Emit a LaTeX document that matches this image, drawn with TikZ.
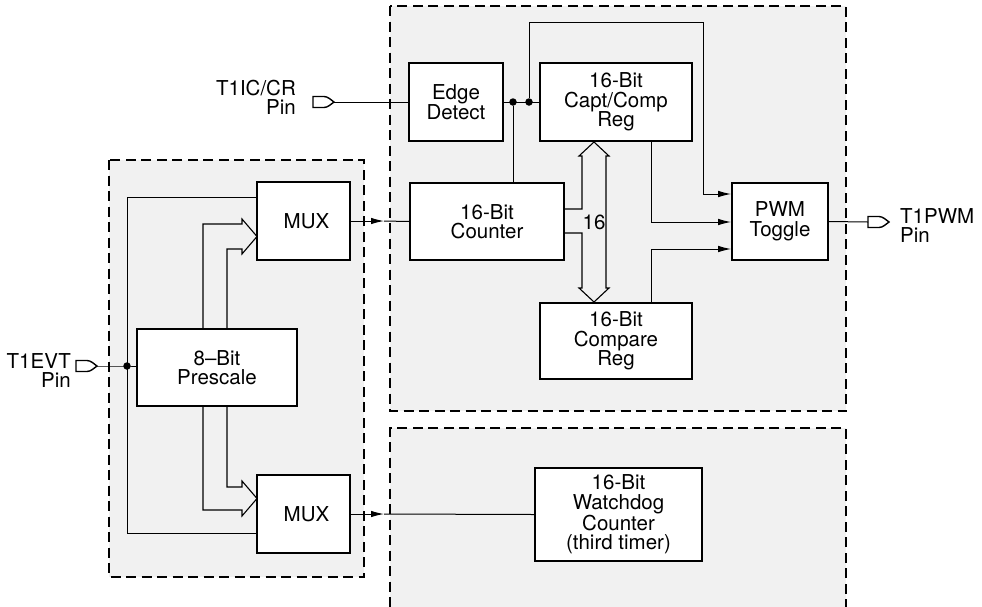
\documentclass[tikz,border=0pt]{standalone}
\usepackage{fontspec}
\setmainfont{TeX Gyre Heros}
\usetikzlibrary{arrows.meta}
\tikzset{
  inpin/.pic={\draw[line width=1.4pt, fill=white] (0,-5.5) -- (11,-5.5) .. controls (15,-5.5) and (18,-2) .. (21,0) .. controls (18,2) and (15,5.5) .. (11,5.5) -- (0,5.5) -- cycle;},
  blk/.style={draw, line width=1.7pt, fill=white, inner sep=0pt, align=center, font=\fontsize{20.5}{19.5}\selectfont},
  region/.style={draw, dash pattern=on 10pt off 5.5pt, line width=1.1pt, fill=gray!11},
  sig/.style={line width=1pt},
  arr/.style={sig, -{Latex[length=13pt,width=6.5pt]}},
  jdot/.style={circle, fill=black, inner sep=0pt, minimum size=7.5pt},
  lbl/.style={inner sep=0pt, font=\fontsize{20.5}{19}\selectfont},
  bus/.style={line width=1.1pt, line join=miter}
}
\begin{document}
\begin{tikzpicture}[x=1pt,y=-1pt]
\clip (0,0) rectangle (982,606);
\fill[white] (0,0) rectangle (982,606);
% regions
\draw[region] (109,160) rectangle (364,577);
\draw[region] (390,6) rectangle (846,411);
\draw[region] (846,640) -- (846,428) -- (390,428) -- (390,640);
% blocks
\node[blk, minimum width=94pt, minimum height=78pt] (edge) at (456,102) {Edge\\Detect};
\node[blk, minimum width=152pt, minimum height=78pt] (capt) at (616,102) {16-Bit\\Capt/Comp\\Reg};
\node[blk, minimum width=154pt, minimum height=77pt] (counter) at (487,221.5) {16-Bit\\Counter};
\node[blk, minimum width=96pt, minimum height=77pt] (pwm) at (780,221.5) {PWM\\Toggle};
\node[blk, minimum width=152pt, minimum height=76pt] (cmpreg) at (616,341) {16-Bit\\Compare\\Reg};
\node[blk, minimum width=167pt, minimum height=93pt] (wd) at (618.5,514.5) {16-Bit\\Watchdog\\Counter\\(third timer)};
\node[blk, minimum width=93pt, minimum height=78pt] (muxa) at (303.5,221) {\hspace{6pt}MUX};
\node[blk, minimum width=160pt, minimum height=77pt] (pre) at (217,367.5) {8–Bit\\Prescale};
\node[blk, minimum width=93pt, minimum height=78pt] (muxb) at (303.5,514) {\hspace{6pt}MUX};
% pins
\pic at (313,102) {inpin};
\coordinate (icpin) at (334,102);
\node[lbl, anchor=east, align=right] (iclbl) at (296,97.5) {T1IC/CR\\Pin};
\pic at (76,366) {inpin};
\coordinate (evtpin) at (97,366);
\node[lbl, anchor=east, align=right] (evtlbl) at (71,371) {T1EVT\\Pin};
\pic at (868,222) {inpin};
\coordinate (pwmpin) at (868,222);
\node[lbl, anchor=west, align=left] (pwmlbl) at (900,226) {T1PWM\\Pin};
% capture input
\draw[sig] (icpin) -- (edge.west);
\coordinate (d1) at (513,102);
\coordinate (d2) at (529,102);
\draw[sig] (edge.east) -- (capt.west);
\node[jdot] (dot1) at (d1) {};
\node[jdot] (dot2) at (d2) {};
\draw[sig] (dot1) -- (d1 |- counter.north);
\coordinate (tl) at (529,22);
\coordinate (tr) at (703,22);
\coordinate (tb) at (703,194);
\draw[arr] (dot2) -- (tl) -- (tr) -- (tb) -- (tb -| pwm.west);
\coordinate (cc) at (651,222);
\draw[arr] (capt.south -| cc) -- (cc) -- (cc -| pwm.west);
\coordinate (cr) at (651,249);
\draw[arr] (cmpreg.north -| cr) -- (cr) -- (cr -| pwm.west);
\draw[sig] (pwm.east) -- (pwmpin);
% mux outputs
\coordinate (ma) at (384,221);
\draw[arr] (muxa.east) -- (ma);
\draw[sig] (ma) -- (counter.west);
\coordinate (mb) at (384,514);
\draw[arr] (muxb.east) -- (mb);
\draw[sig] (mb) -- (wd.west);
% T1EVT input
\coordinate (ev) at (127,366);
\coordinate (evt) at (127,197);
\coordinate (evb) at (127,533);
\draw[sig] (evtpin) -- (ev) -- (ev -| pre.west);
\draw[sig] (evt -| muxa.west) -- (evt) -- (evb) -- (evb -| muxb.west);
\node[jdot] (evdot) at (ev) {};
% hollow arrows prescale -> mux
\draw[bus] (203,329) -- (203,224) -- (242,224) -- (242,219) -- (257,236.5) -- (242,254) -- (242,249) -- (227,249) -- (227,329);
\draw[bus] (227,406) -- (227,487) -- (242,487) -- (242,481) -- (257,498.5) -- (242,516) -- (242,510) -- (203,510) -- (203,406);
% 16-bit bus
\draw[bus] (564,209) -- (582,209) -- (582,156) -- (579,156) -- (594,142) -- (609,156) -- (606,156) -- (606,288) -- (609,288) -- (594,302) -- (579,288) -- (582,288) -- (582,233) -- (564,233);
\node[lbl] (buslbl) at (594,222) {16};
\end{tikzpicture}
\end{document}
